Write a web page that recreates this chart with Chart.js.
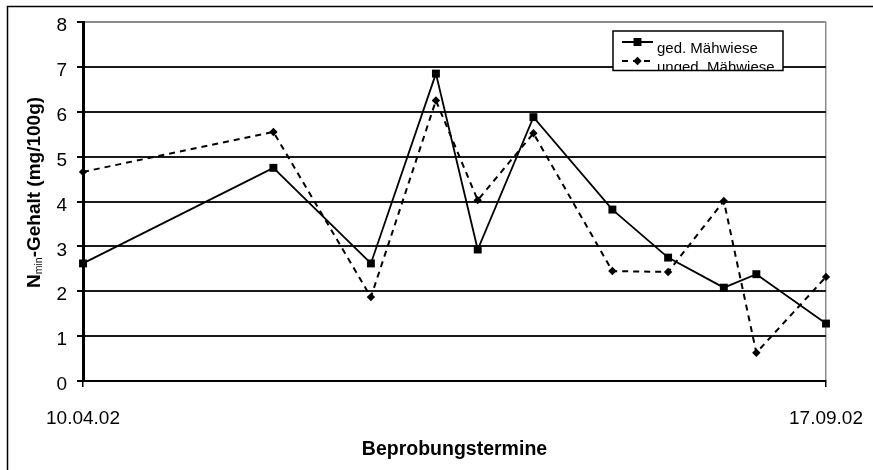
<!DOCTYPE html>
<html>
<head>
<meta charset="utf-8">
<script src="https://cdn.jsdelivr.net/npm/chart.js@4/dist/chart.umd.min.js"></script>
<style>
  html, body { margin: 0; padding: 0; background: #ffffff; }
  canvas { display: block; }
</style>
</head>
<body>
<canvas id="chart" width="873" height="470"></canvas>
<script>
// Sampling dates (dd.mm.yy) and N-min contents in mg/100g soil
const samplingDates = ['10.04.02', '21.05.02', '11.06.02', '25.06.02', '04.07.02', '16.07.02',
                       '02.08.02', '14.08.02', '26.08.02', '02.09.02', '17.09.02'];
const gedMaehwiese   = [2.62, 4.75, 2.62, 6.85, 2.93, 5.88, 3.82, 2.75, 2.08, 2.38, 1.28];
const ungedMaehwiese = [4.66, 5.55, 1.87, 6.25, 4.03, 5.52, 2.45, 2.43, 4.01, 0.63, 2.32];

const seriesLabels = ['ged. Mähwiese', 'unged. Mähwiese'];
const xTickLabels = ['10.04.02', '17.09.02'];
const yTicks = [0, 1, 2, 3, 4, 5, 6, 7, 8];
const xTitle = 'Beprobungstermine';
const yTitleParts = ['N', 'min', '-Gehalt (mg/100g)'];

const FONT = '"Liberation Sans", Arial, sans-serif';

function parseDay(s) {
  const [d, m, y] = s.split('.').map(Number);
  return Date.UTC(2000 + y, m - 1, d) / 86400000;
}
const day0 = parseDay(samplingDates[0]);
const dayOf = s => Math.round(parseDay(s) - day0);
const lastDay = dayOf(samplingDates[samplingDates.length - 1]);

const toPoints = vals => vals.map((v, i) => ({ x: dayOf(samplingDates[i]), y: v }));

// Outer frame of the figure
const framePlugin = {
  id: 'frame',
  beforeDraw(chart) {
    const c = chart.ctx;
    c.save();
    c.fillStyle = '#ffffff';
    c.fillRect(0, 0, chart.width, chart.height);
    c.strokeStyle = '#000';
    c.lineWidth = 1.5;
    c.beginPath();
    c.moveTo(7.5, chart.height + 2);
    c.lineTo(7.5, 6.5);
    c.lineTo(chart.width + 2, 6.5);
    c.stroke();
    c.restore();
  }
};

// Vertical axis title with subscript "min"
const yTitlePlugin = {
  id: 'yTitle',
  afterDraw(chart) {
    const c = chart.ctx;
    const mainFont = 'bold 19px ' + FONT;
    const subFont = '10.5px ' + FONT;
    c.save();
    c.fillStyle = '#000';
    c.textBaseline = 'alphabetic';
    c.textAlign = 'left';
    c.translate(40, 288);
    c.rotate(-Math.PI / 2);
    let x = 0;
    c.font = mainFont;
    c.fillText(yTitleParts[0], x, 0);
    x += c.measureText(yTitleParts[0]).width;
    c.font = subFont;
    c.fillText(yTitleParts[1], x, 2);
    x += c.measureText(yTitleParts[1]).width;
    c.font = mainFont;
    c.fillText(yTitleParts[2], x, 0);
    c.restore();
  }
};

// Boxed legend inside the plot area
const boxLegendPlugin = {
  id: 'boxLegend',
  afterDraw(chart) {
    const c = chart.ctx;
    const box = { x: 613, y: 31, w: 170, h: 39.5 };
    c.save();
    c.fillStyle = '#fff';
    c.fillRect(box.x, box.y, box.w, box.h);
    c.beginPath();
    c.rect(box.x, box.y, box.w, box.h);
    c.clip();
    const rows = [{ lineY: 42, textY: 53 }, { lineY: 61, textY: 72 }];
    chart.data.datasets.forEach((ds, i) => {
      const r = rows[i];
      c.save();
      c.strokeStyle = ds.borderColor;
      c.lineWidth = ds.borderWidth;
      c.setLineDash(ds.borderDash || []);
      c.beginPath();
      c.moveTo(622, r.lineY);
      c.lineTo(653, r.lineY);
      c.stroke();
      c.restore();
      c.save();
      c.fillStyle = ds.pointBackgroundColor;
      c.strokeStyle = ds.pointBorderColor;
      Chart.helpers.drawPoint(c, {
        pointStyle: ds.pointStyle, radius: ds.pointRadius, borderWidth: 0, rotation: 0
      }, 637.5, r.lineY);
      c.restore();
      c.fillStyle = '#000';
      c.font = '15px ' + FONT;
      c.textBaseline = 'alphabetic';
      c.fillText(ds.label, 657, r.textY);
    });
    c.restore();
    c.save();
    c.strokeStyle = '#000';
    c.lineWidth = 1.5;
    c.strokeRect(box.x, box.y, box.w, box.h);
    c.restore();
  }
};

Chart.defaults.font.family = FONT;
Chart.defaults.color = '#000';

new Chart(document.getElementById('chart'), {
  type: 'line',
  data: {
    datasets: [
      {
        label: seriesLabels[0],
        data: toPoints(gedMaehwiese),
        borderColor: '#000',
        backgroundColor: '#000',
        borderWidth: 1.8,
        pointStyle: 'rect',
        pointRadius: 5.6,
        pointBackgroundColor: '#000',
        pointBorderColor: '#000',
        pointBorderWidth: 0,
        tension: 0,
        clip: false
      },
      {
        label: seriesLabels[1],
        data: toPoints(ungedMaehwiese),
        borderColor: '#000',
        backgroundColor: '#000',
        borderWidth: 2,
        borderDash: [6, 5],
        pointStyle: 'rectRot',
        pointRadius: 4.2,
        pointBackgroundColor: '#000',
        pointBorderColor: '#000',
        pointBorderWidth: 0,
        tension: 0,
        clip: false
      }
    ]
  },
  options: {
    responsive: false,
    animation: false,
    events: [],
    layout: { padding: { left: 0, right: 47, top: 22, bottom: 0 } },
    plugins: {
      legend: { display: false },
      tooltip: { enabled: false },
      title: { display: false }
    },
    scales: {
      x: {
        type: 'linear',
        min: 0,
        max: lastDay,
        afterBuildTicks: s => { s.ticks = xTickLabels.map(l => ({ value: dayOf(l) })); },
        afterFit: s => { s.height = 89; s.paddingLeft = 0; s.paddingRight = 0; },
        ticks: {
          autoSkip: false,
          maxRotation: 0,
          padding: 20,
          font: { size: 19 },
          color: '#000',
          callback: v => {
            const i = xTickLabels.findIndex(l => dayOf(l) === v);
            return i >= 0 ? xTickLabels[i] : '';
          }
        },
        grid: {
          color: ctx => (ctx.tick && ctx.tick.value === lastDay) ? '#8c8c8c' : 'rgba(0,0,0,0)',
          tickColor: '#000',
          tickLength: 6,
          lineWidth: 1.5
        },
        border: { color: '#000', width: 2 },
        title: {
          display: true,
          text: xTitle,
          color: '#000',
          font: { size: 19.5, weight: 'bold' },
          padding: { top: 0, bottom: 9 }
        }
      },
      y: {
        min: 0,
        max: 8,
        afterBuildTicks: s => { s.ticks = yTicks.map(v => ({ value: v })); },
        afterFit: s => { s.width = 83; },
        ticks: {
          padding: 10,
          labelOffset: 4,
          font: { size: 19 },
          color: '#000'
        },
        grid: {
          color: ctx => (ctx.tick && ctx.tick.value === 8) ? '#8c8c8c' : '#1a1a1a',
          tickColor: '#000',
          tickLength: 6,
          lineWidth: 2
        },
        border: { color: '#000', width: 3 }
      }
    }
  },
  plugins: [framePlugin, yTitlePlugin, boxLegendPlugin]
});
</script>
</body>
</html>
